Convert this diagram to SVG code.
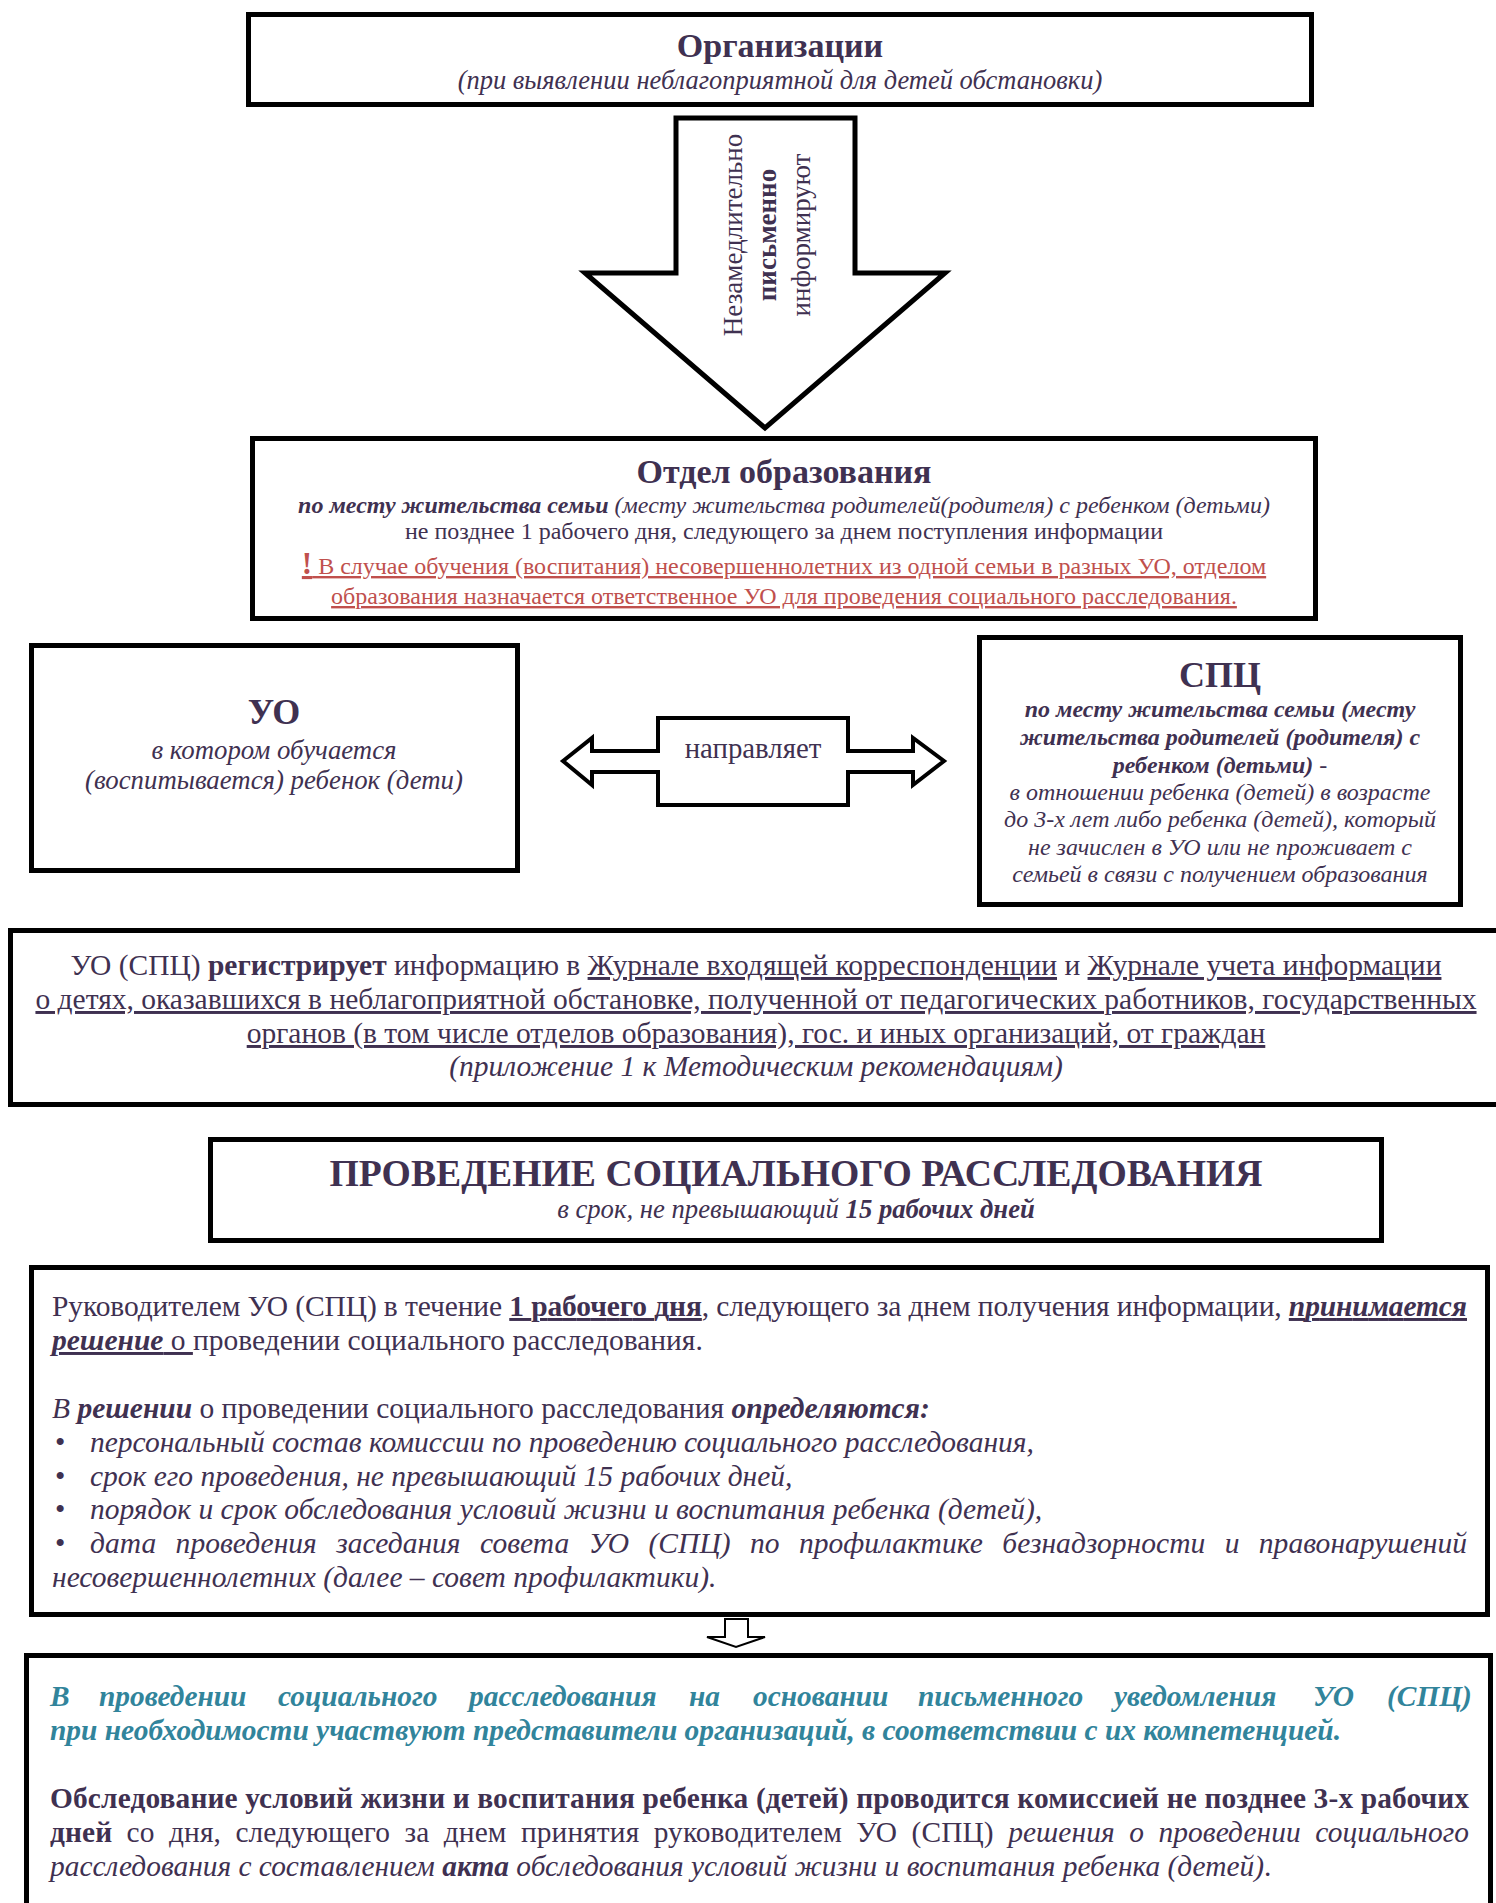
<svg xmlns="http://www.w3.org/2000/svg" width="1496" height="1903" viewBox="0 0 1496 1903">
<style>
text{font-family:'Liberation Serif','Times New Roman',serif;fill:#3F3151}
.b{font-weight:bold}.i{font-style:italic}.u{text-decoration:underline}
.box{fill:#fff;stroke:#000;stroke-width:5}
.arr{fill:#fff;stroke:#000;stroke-linejoin:miter}
.red{fill:#C0504D}.teal{fill:#31849B}
.c{text-anchor:middle}
</style>
<rect width="1496" height="1903" fill="#fff"/>

<g id="organizations">
<rect class="box" x="248.5" y="14.5" width="1063" height="90"/>
<text x="780" y="57" class="c b" font-size="34">Организации</text>
<text x="780" y="89" class="c i" font-size="26.5">(при выявлении неблагоприятной для детей обстановки)</text>
</g>

<g id="otdel">
<rect class="box" x="252.5" y="438.5" width="1063" height="180"/>
<text x="784" y="482.5" class="c b" font-size="34">Отдел образования</text>
<text x="784" y="513" class="c i" font-size="24"><tspan class="b">по месту жительства семьи</tspan> (месту жительства родителей(родителя) с ребенком (детьми)</text>
<text x="784" y="539" class="c" font-size="24">не позднее 1 рабочего дня, следующего за днем поступления информации</text>
<text x="784" y="574" class="c red u" font-size="24"><tspan class="b" font-size="31">!</tspan> В случае обучения (воспитания) несовершеннолетних из одной семьи в разных УО, отделом</text>
<text x="784" y="604" class="c red u" font-size="24">образования назначается ответственное УО для проведения социального расследования.</text>
</g>

<g id="uo">
<rect class="box" x="31.5" y="645.5" width="486" height="225"/>
<text x="274" y="724" class="c b" font-size="36">УО</text>
<text x="274" y="759" class="c i" font-size="26.8">в котором обучается</text>
<text x="274" y="789" class="c i" font-size="26.8">(воспитывается) ребенок (дети)</text>
</g>

<g id="spc">
<rect class="box" x="979.5" y="637.5" width="481" height="267"/>
<text x="1220" y="687" class="c b" font-size="36">СПЦ</text>
<text x="1220" y="717" class="c b i" font-size="24">по месту жительства семьи (месту</text>
<text x="1220" y="745" class="c b i" font-size="24">жительства родителей (родителя) с</text>
<text x="1220" y="773" class="c i" font-size="24"><tspan class="b">ребенком (детьми)</tspan> -</text>
<text x="1220" y="800" class="c i" font-size="24">в отношении ребенка (детей) в возрасте</text>
<text x="1220" y="827" class="c i" font-size="24">до 3-х лет либо ребенка (детей), который</text>
<text x="1220" y="855" class="c i" font-size="24">не зачислен в УО или не проживает с</text>
<text x="1220" y="882" class="c i" font-size="24">семьей в связи с получением образования</text>
</g>

<g id="register">
<rect class="box" x="10.5" y="930.5" width="1500" height="174"/>
<text x="756" y="975" class="c" font-size="29.5">УО (СПЦ) <tspan class="b">регистрирует</tspan> информацию в <tspan class="u">Журнале входящей корреспонденции</tspan> и <tspan class="u">Журнале учета информации</tspan></text>
<text x="756" y="1009" class="c u" font-size="29.5">о детях, оказавшихся в неблагоприятной обстановке, полученной от педагогических работников, государственных</text>
<text x="756" y="1043" class="c u" font-size="29.5">органов (в том числе отделов образования), гос. и иных организаций, от граждан</text>
<text x="756" y="1076" class="c i" font-size="29.5">(приложение 1 к Методическим рекомендациям)</text>
</g>

<g id="investigation">
<rect class="box" x="210.5" y="1139.5" width="1171" height="101"/>
<text x="796" y="1186" class="c b" font-size="37.7">ПРОВЕДЕНИЕ СОЦИАЛЬНОГО РАССЛЕДОВАНИЯ</text>
<text x="796" y="1218" class="c i" font-size="26.7">в срок, не превышающий <tspan class="b">15 рабочих дней</tspan></text>
</g>

<g id="decision">
<rect class="box" x="31.5" y="1267.5" width="1456" height="347"/>
<text x="52" y="1316" font-size="29.5" textLength="1415" lengthAdjust="spacing">Руководителем УО (СПЦ) в течение <tspan class="b u">1 рабочего дня</tspan>, следующего за днем получения информации, <tspan class="b i u">принимается</tspan></text>
<text x="52" y="1350" font-size="29.5"><tspan class="b i u">решение</tspan><tspan class="u"> о </tspan>проведении социального расследования.</text>
<text x="52" y="1418" font-size="29.5"><tspan class="i">В </tspan><tspan class="b i">решении</tspan> о проведении социального расследования <tspan class="b i">определяются:</tspan></text>
<text x="55" y="1452" font-size="29.5">•</text>
<text x="90" y="1452" class="i" font-size="29.5">персональный состав комиссии по проведению социального расследования,</text>
<text x="55" y="1486" font-size="29.5">•</text>
<text x="90" y="1486" class="i" font-size="29.5">срок его проведения, не превышающий 15 рабочих дней,</text>
<text x="55" y="1519" font-size="29.5">•</text>
<text x="90" y="1519" class="i" font-size="29.5">порядок и срок обследования условий жизни и воспитания ребенка (детей),</text>
<text x="55" y="1553" font-size="29.5">•</text>
<text x="90" y="1553" class="i" font-size="29.5" word-spacing="12" textLength="1377" lengthAdjust="spacing">дата проведения заседания совета УО (СПЦ) по профилактике безнадзорности и правонарушений</text>
<text x="52" y="1587" class="i" font-size="29.5">несовершеннолетних (далее – совет профилактики).</text>
</g>

<g id="examination">
<rect class="box" x="26.5" y="1655.5" width="1464" height="300"/>
<text y="1706" class="b i teal" font-size="29.4"><tspan x="50">В</tspan><tspan x="99">проведении</tspan><tspan x="278">социального</tspan><tspan x="469">расследования</tspan><tspan x="689">на</tspan><tspan x="753">основании</tspan><tspan x="918">письменного</tspan><tspan x="1114">уведомления</tspan><tspan x="1313">УО</tspan><tspan x="1387">(СПЦ)</tspan></text>
<text x="50" y="1740" class="b i teal" font-size="29.4">при необходимости участвуют представители организаций, в соответствии с их компетенцией.</text>
<text x="50" y="1808" class="b" font-size="29.4" textLength="1419" lengthAdjust="spacing">Обследование условий жизни и воспитания ребенка (детей) проводится комиссией не позднее 3-х рабочих</text>
<text x="50" y="1842" font-size="29.4" word-spacing="7" textLength="1419" lengthAdjust="spacing"><tspan class="b">дней</tspan> со дня, следующего за днем принятия руководителем УО (СПЦ) <tspan class="i">решения о проведении социального</tspan></text>
<text x="50" y="1876" class="i" font-size="29.4">расследования с составлением <tspan class="b">акта</tspan> обследования условий жизни и воспитания ребенка (детей)<tspan font-style="normal">.</tspan></text>
</g>

<g id="connectors">
<polygon class="arr" stroke-width="5" points="676,118 855,118 855,273 945,273 765,428 585,273 676,273"/>
<text transform="translate(742,235) rotate(-90)" class="c" font-size="27">Незамедлительно</text>
<text transform="translate(776,235) rotate(-90)" class="c b" font-size="27">письменно</text>
<text transform="translate(810,235) rotate(-90)" class="c" font-size="27">информируют</text>
<polygon class="arr" stroke-width="4" points="563,761 592,738 592,751 658,751 658,718 848,718 848,751 913,751 913,738 944,761 913,785 913,772 848,772 848,805 658,805 658,772 592,772 592,785"/>
<text x="753" y="758" class="c" font-size="28.8">направляет</text>
<polygon class="arr" stroke-width="2" points="725,1619 748,1619 748,1637 765,1637 736,1647 707,1637 725,1637"/>
</g>
</svg>
